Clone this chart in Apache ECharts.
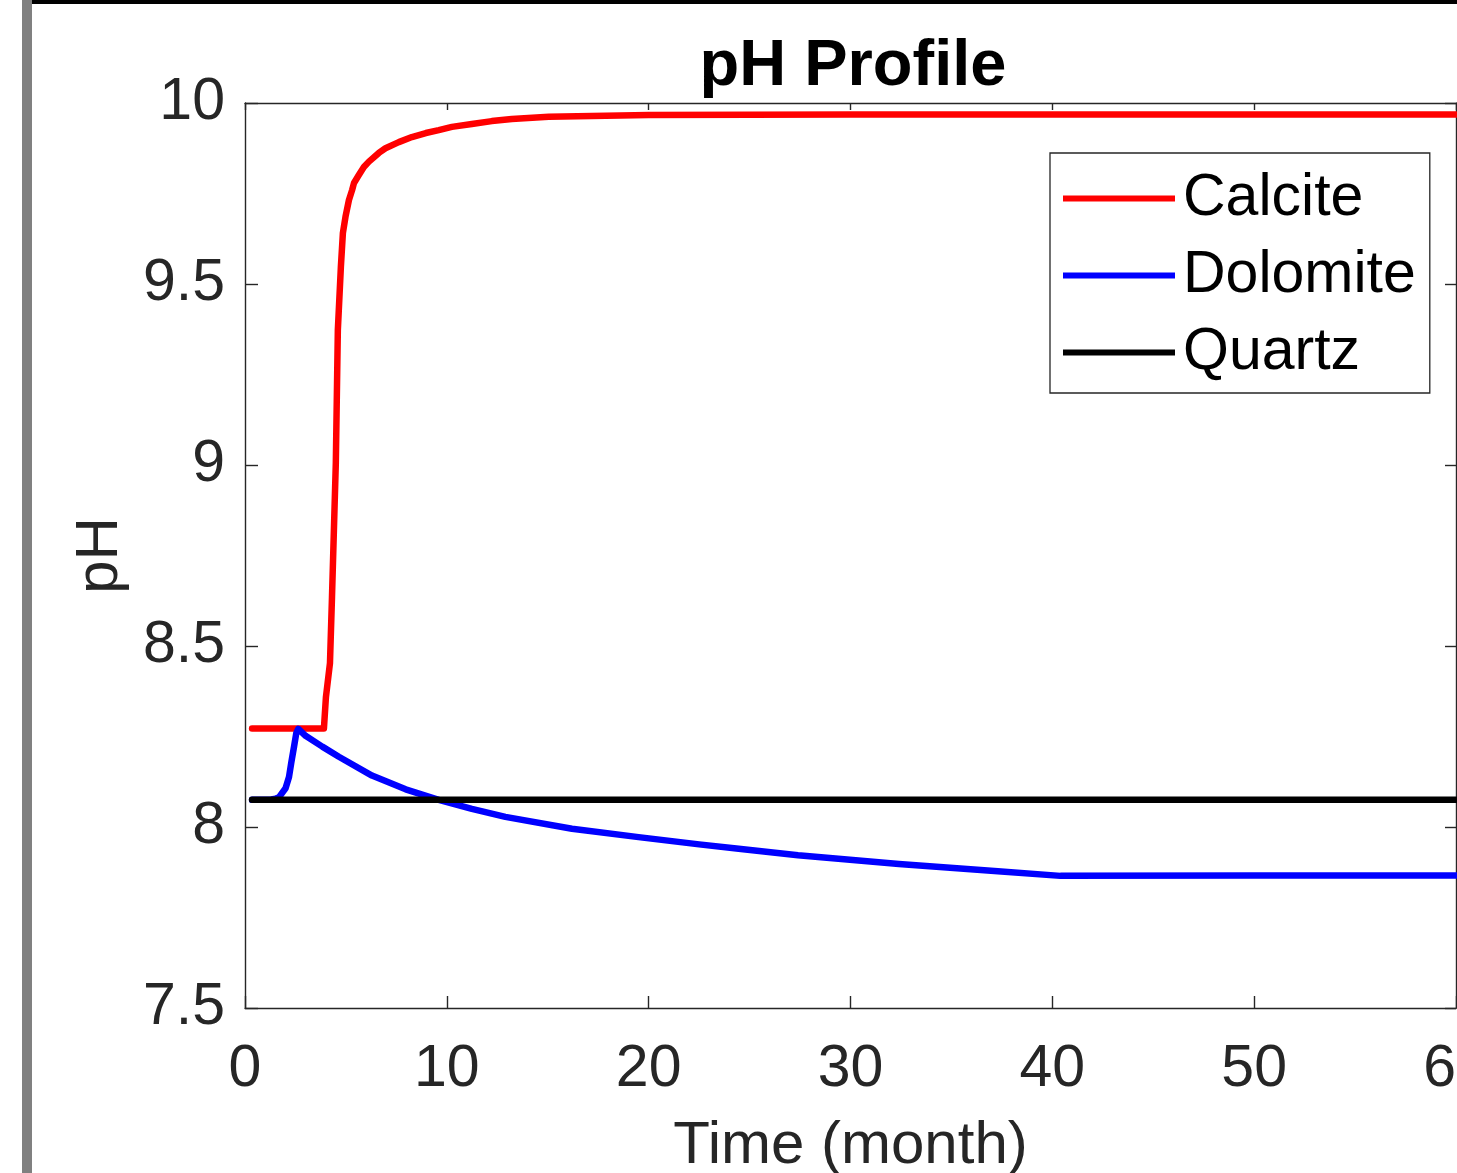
<!DOCTYPE html>
<html>
<head>
<meta charset="utf-8">
<title>pH Profile</title>
<script src="https://cdn.jsdelivr.net/npm/echarts@6/dist/echarts.min.js"></script>
<style>
  html, body { margin: 0; padding: 0; background: #fff; overflow: hidden; }
  #chart { width: 1457px; height: 1173px; }
</style>
</head>
<body>
<div id="chart"></div>
<script>
// values (time in months, pH)
const calciteTime = [0.35, 3.91, 4.01, 4.21, 4.31, 4.50, 4.60, 4.75, 4.85, 4.98, 5.15, 5.31, 5.40, 5.64, 5.89, 6.14, 6.63, 6.96, 7.62, 8.27, 8.96, 9.60, 10.25, 11.24, 12.23, 13.22, 15.05, 20, 30, 40, 50, 60]
const calcitePH   = [8.272, 8.272, 8.359, 8.453, 8.635, 9.006, 9.373, 9.547, 9.641, 9.686, 9.732, 9.760, 9.779, 9.801, 9.823, 9.838, 9.862, 9.875, 9.892, 9.906, 9.917, 9.925, 9.934, 9.942, 9.950, 9.956, 9.962, 9.967, 9.968, 9.968, 9.968, 9.968]

const dolomiteTime = [0.35, 1.3, 1.50, 1.68, 2.01, 2.18, 2.29, 2.43, 2.54, 2.64, 3.0, 3.83, 4.65, 6.29, 7.96, 9.6, 11.24, 12.9, 16.2, 19.5, 22.5, 24.46, 27.4, 32.4, 37.3, 40.4, 50, 60]
const dolomitePH   = [8.075, 8.076, 8.078, 8.082, 8.107, 8.138, 8.177, 8.222, 8.259, 8.271, 8.252, 8.222, 8.194, 8.142, 8.104, 8.075, 8.050, 8.028, 7.995, 7.972, 7.952, 7.940, 7.922, 7.898, 7.878, 7.865, 7.866, 7.866]

const quartzTime = [0.35, 10, 20, 30, 40, 50, 60]
const quartzPH   = [8.075, 8.075, 8.075, 8.075, 8.075, 8.075, 8.075]

const xTicks = [0, 10, 20, 30, 40, 50, 60]
const yTicks = [7.5, 8, 8.5, 9, 9.5, 10]

const pairs = (t, v) => t.map((x, i) => [x, v[i]])

const ink = '#262626'
const font = 'Liberation Sans, Arial, Helvetica, sans-serif'

const chart = echarts.init(document.getElementById('chart'), null, {renderer: 'canvas'})

const lineSeries = (name, color, t, v) => ({
  name: name,
  type: 'line',
  data: pairs(t, v),
  showSymbol: false,
  symbol: 'none',
  smooth: false,
  clip: true,
  animation: false,
  lineStyle: {color: color, width: 6.5, cap: 'round', join: 'round'},
  itemStyle: {color: color}
})

chart.setOption({
  animation: false,
  backgroundColor: '#fff',
  title: {
    text: 'pH Profile',
    left: 848,
    top: 30,
    textAlign: 'center',
    textStyle: {fontFamily: font, fontSize: 65, fontWeight: 'bold', color: '#000'}
  },
  grid: {left: 245, top: 103, right: 1, bottom: 165, containLabel: false, outerBoundsMode: 'none'},
  legend: {
    orient: 'vertical',
    left: 1050,
    top: 153,
    padding: [16, 14, 11, 13],
    icon: 'rect',
    itemWidth: 112,
    itemHeight: 6,
    itemGap: 18,
    backgroundColor: '#fff',
    borderColor: ink,
    borderWidth: 1.3,
    textStyle: {fontFamily: font, fontSize: 59, color: '#000', lineHeight: 59, padding: [0, 0, 0, 3]},
    data: ['Calcite', 'Dolomite', 'Quartz']
  },
  xAxis: [{
    type: 'value',
    min: 0, max: 60, interval: 10,
    name: 'Time (month)',
    nameLocation: 'middle',
    nameGap: 108,
    nameTextStyle: {fontFamily: font, fontSize: 60, color: ink},
    axisLine: {show: true, lineStyle: {color: ink, width: 1.4}},
    axisTick: {inside: true, length: 12, lineStyle: {color: ink, width: 1.4}},
    axisLabel: {fontFamily: font, fontSize: 59, color: ink, margin: 32,
      formatter: v => xTicks.includes(v) ? String(v) : ''},
    splitLine: {show: false}
  }, {
    type: 'value',
    position: 'top',
    min: 0, max: 60, interval: 10,
    axisLine: {show: true, onZero: false, lineStyle: {color: ink, width: 1.4}},
    axisTick: {inside: true, length: 7, lineStyle: {color: ink, width: 1.4}},
    axisLabel: {show: false},
    splitLine: {show: false}
  }],
  yAxis: [{
    type: 'value',
    min: 7.5, max: 10, interval: 0.5,
    name: 'pH',
    nameLocation: 'middle',
    nameGap: 115,
    nameTextStyle: {fontFamily: font, fontSize: 60, color: ink},
    axisLine: {show: true, onZero: false, lineStyle: {color: ink, width: 1.4}},
    axisTick: {inside: true, length: 13, lineStyle: {color: ink, width: 1.4}},
    axisLabel: {fontFamily: font, fontSize: 59, color: ink, margin: 20, padding: [8, 0, 0, 0],
      formatter: v => yTicks.some(t => Math.abs(t - v) < 1e-9) ? String(v) : ''},
    splitLine: {show: false}
  }, {
    type: 'value',
    position: 'right',
    min: 7.5, max: 10, interval: 0.5,
    axisLine: {show: true, onZero: false, lineStyle: {color: ink, width: 1.4}},
    axisTick: {inside: true, length: 11, lineStyle: {color: ink, width: 1.4}},
    axisLabel: {show: false},
    splitLine: {show: false}
  }],
  series: [
    lineSeries('Calcite', '#ff0000', calciteTime, calcitePH),
    lineSeries('Dolomite', '#0000ff', dolomiteTime, dolomitePH),
    lineSeries('Quartz', '#000000', quartzTime, quartzPH)
  ],
  graphic: [
    // frame pieces around the cropped figure
    {type: 'rect', shape: {x: 22, y: 0, width: 1435, height: 4}, style: {fill: '#000'}, z: 100},
    {type: 'rect', shape: {x: 22, y: 0, width: 10, height: 1173}, style: {fill: '#808080'}, z: 100}
  ]
})
</script>
</body>
</html>
